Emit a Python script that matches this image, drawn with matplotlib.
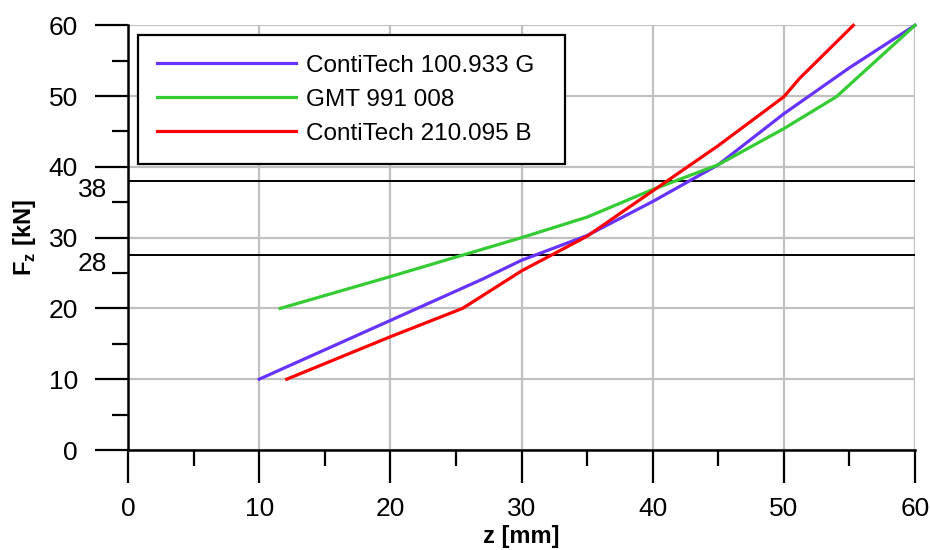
import matplotlib
matplotlib.use("Agg")
import matplotlib.pyplot as plt
import numpy as np

plt.rcParams['font.family'] = ['Liberation Sans', 'DejaVu Sans']

# z [mm], F_z [kN]
z_100933 = [10.0, 20.0, 27.1, 30.0, 35.0, 40.0, 45.0, 50.0, 55.0, 60.0]
f_100933 = [10.0, 18.3, 24.2, 26.8, 30.3, 35.1, 40.3, 47.5, 54.0, 60.0]

z_gmt = [11.6, 20.0, 30.0, 35.0, 40.0, 45.0, 50.0, 54.0, 60.0]
f_gmt = [20.0, 24.5, 30.0, 32.9, 36.8, 40.3, 45.4, 49.9, 60.0]

z_210095 = [12.1, 20.0, 25.5, 30.0, 35.0, 40.0, 45.0, 50.0, 51.2, 55.3]
f_210095 = [10.0, 16.0, 20.0, 25.3, 30.2, 36.6, 43.0, 49.9, 52.5, 60.0]

labels = ["ContiTech 100.933 G", "GMT 991 008", "ContiTech 210.095 B"]
colors = ["#6633ff", "#33cc33", "#ff0000"]

ref_levels = [38.0, 27.6]
ref_labels = ["38", "28"]

fig = plt.figure(figsize=(9.3, 5.5), dpi=100)
ax = fig.add_axes([128 / 930, 1 - 450 / 550, 787 / 930, 424.7 / 550])

ax.set_xlim(0, 60)
ax.set_ylim(0, 60)
ax.set_xticks(np.arange(0, 61, 10))
ax.set_yticks(np.arange(0, 61, 10))
ax.set_xticks(np.arange(5, 60, 10), minor=True)
ax.set_yticks(np.arange(5, 60, 10), minor=True)
ax.grid(True, which='major', color='#c0c0c0', linewidth=1.6)
ax.set_axisbelow(True)

for side in ['top', 'right']:
    ax.spines[side].set_visible(False)
for side in ['left', 'bottom']:
    ax.spines[side].set_linewidth(1.8)

ax.tick_params(which='major', length=24, width=1.6, labelsize=19, pad=10)
ax.tick_params(which='minor', length=11.5, width=1.6)
ax.tick_params(axis='y', which='major', pad=12)

for lev in ref_levels:
    ax.axhline(lev, color='black', linewidth=1.4, zorder=2)
for lev, lab in zip(ref_levels, ref_labels):
    ax.annotate(lab, xy=(0, lev), xycoords=('axes fraction', 'data'),
                xytext=(-21, -9), textcoords='offset pixels',
                ha='right', va='center', fontsize=19)

series = [(z_100933, f_100933), (z_gmt, f_gmt), (z_210095, f_210095)]
for (zz, ff), lab, col in zip(series, labels, colors):
    ax.plot(zz, ff, color=col, linewidth=2.3, label=lab, zorder=3, clip_on=False)

leg = ax.legend(loc='upper left', bbox_to_anchor=(0.0127, 0.0, 0.5426, 0.977),
                mode='expand', borderaxespad=0, fontsize=17.5,
                handlelength=5.72, handletextpad=0.4, labelspacing=0.5,
                borderpad=0.8, fancybox=False, framealpha=1)
leg.get_frame().set_edgecolor('black')
leg.get_frame().set_linewidth(1.6)

ax.set_xlabel("z [mm]", fontsize=17, fontweight='bold', labelpad=3)
ax.set_ylabel(r"F$_\mathregular{z}$ [kN]", fontsize=17, fontweight='bold', labelpad=8)

fig.savefig("out.png", dpi=100)
